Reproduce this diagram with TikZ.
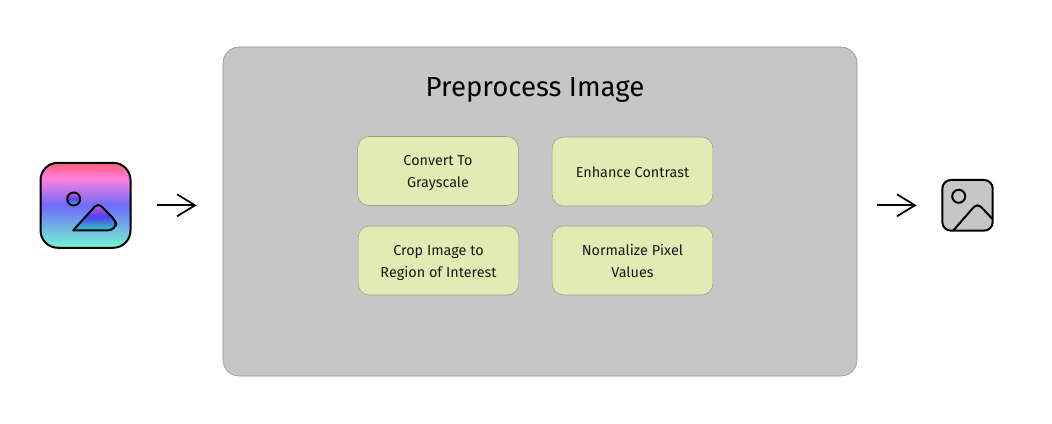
\documentclass[tikz,border=0pt]{standalone}
\usepackage{fontspec}
\setmainfont{Fira Sans}
\usetikzlibrary{arrows.meta}
\definecolor{iconteal}{HTML}{72F7CF}
\definecolor{iconviolet}{HTML}{6F6CFB}
\definecolor{iconpink}{HTML}{FF80DC}
\definecolor{iconrose}{HTML}{FF5C7C}
\definecolor{glyphteal}{HTML}{2FCFC0}
\definecolor{glyphblue}{HTML}{5040F0}
\definecolor{glyphpink}{HTML}{D860D0}
\definecolor{panelgray}{HTML}{C6C6C6}
\definecolor{panelline}{HTML}{909090}
\definecolor{stepgreen}{HTML}{E3EBB4}
\definecolor{stepline}{HTML}{989C86}
\newcommand{\steptop}{\rule{0pt}{13.5pt}}
\pgfdeclareverticalshading{iconfade}{100bp}{
  color(0bp)=(iconteal);
  color(25bp)=(iconteal);
  color(50bp)=(iconviolet);
  color(66bp)=(iconpink);
  color(75bp)=(iconrose);
  color(100bp)=(iconrose)}
\pgfdeclareverticalshading{glyphfade}{100bp}{
  color(0bp)=(glyphteal);
  color(25bp)=(glyphteal);
  color(50bp)=(glyphblue);
  color(75bp)=(glyphpink);
  color(100bp)=(glyphpink)}
\tikzset{
  panelbox/.style={draw=panelline,fill=panelgray,rounded corners=12pt,minimum width=475.5pt,minimum height=246.75pt,inner sep=0pt},
  stepbox/.style={draw=stepline,fill=stepgreen,rounded corners=8.5pt,minimum width=120.5pt,minimum height=51.75pt,inner sep=0pt,align=center,font=\fontsize{10.8}{16.5}\selectfont,text=black!90},
  iconline/.style={draw=black,line width=1.5pt,line join=round},
  flow/.style={line width=1.3pt,-{Straight Barb[length=13.5pt,width=16.5pt,line width=1.3pt]}}
}
\begin{document}
\begin{tikzpicture}[x=0.75pt,y=-0.75pt]
  \useasboundingbox (0,0) rectangle (1052,424);
  \node[panelbox] (panel) at (540,211.5) {};
  \node[font=\fontsize{20.7}{24}\selectfont] (paneltitle) at (535,89.5) {Preprocess Image};
  % steps
  \node[stepbox] (grayscale) at (438,171) {\steptop\strut Convert To\\\strut Grayscale};
  \node[stepbox] (contrast) at (632.5,171.5) {\steptop\strut Enhance Contrast};
  \node[stepbox] (crop) at (438.5,260.5) {\steptop\strut Crop Image to\\\strut Region of Interest};
  \node[stepbox] (normalize) at (632.5,260.5) {\steptop\strut Normalize Pixel\\\strut Values};
  % input icon
  \node[iconline,shading=iconfade,rounded corners=13pt,minimum width=67.5pt,minimum height=63.75pt,inner sep=0pt] (inputicon) at (85.5,205.3) {};
  \draw[iconline,shading=glyphfade] (73.7,199) circle (6.5);
  \draw[iconline,shading=glyphfade] (73.3,230.3) [rounded corners=3.5pt] -- (98,203) -- (116,221) [rounded corners=6pt] -- (116,230.3) [sharp corners] -- cycle;
  % output icon
  \node[iconline,fill=panelgray,rounded corners=6.5pt,minimum width=37.8pt,minimum height=38pt,inner sep=0pt] (outputicon) at (967.5,205.3) {};
  \draw[iconline] (958.7,196.3) circle (6.5);
  \draw[iconline,rounded corners=4pt] (953.3,230.5) -- (977.3,203) -- (992.5,219);
  % arrows
  \draw[flow,shorten <=19pt,shorten >=19.5pt] (inputicon.east) -- (inputicon.east -| panel.west);
  \draw[flow,shorten <=15pt,shorten >=18.5pt] (outputicon.west -| panel.east) -- (outputicon.west);
\end{tikzpicture}
\end{document}
